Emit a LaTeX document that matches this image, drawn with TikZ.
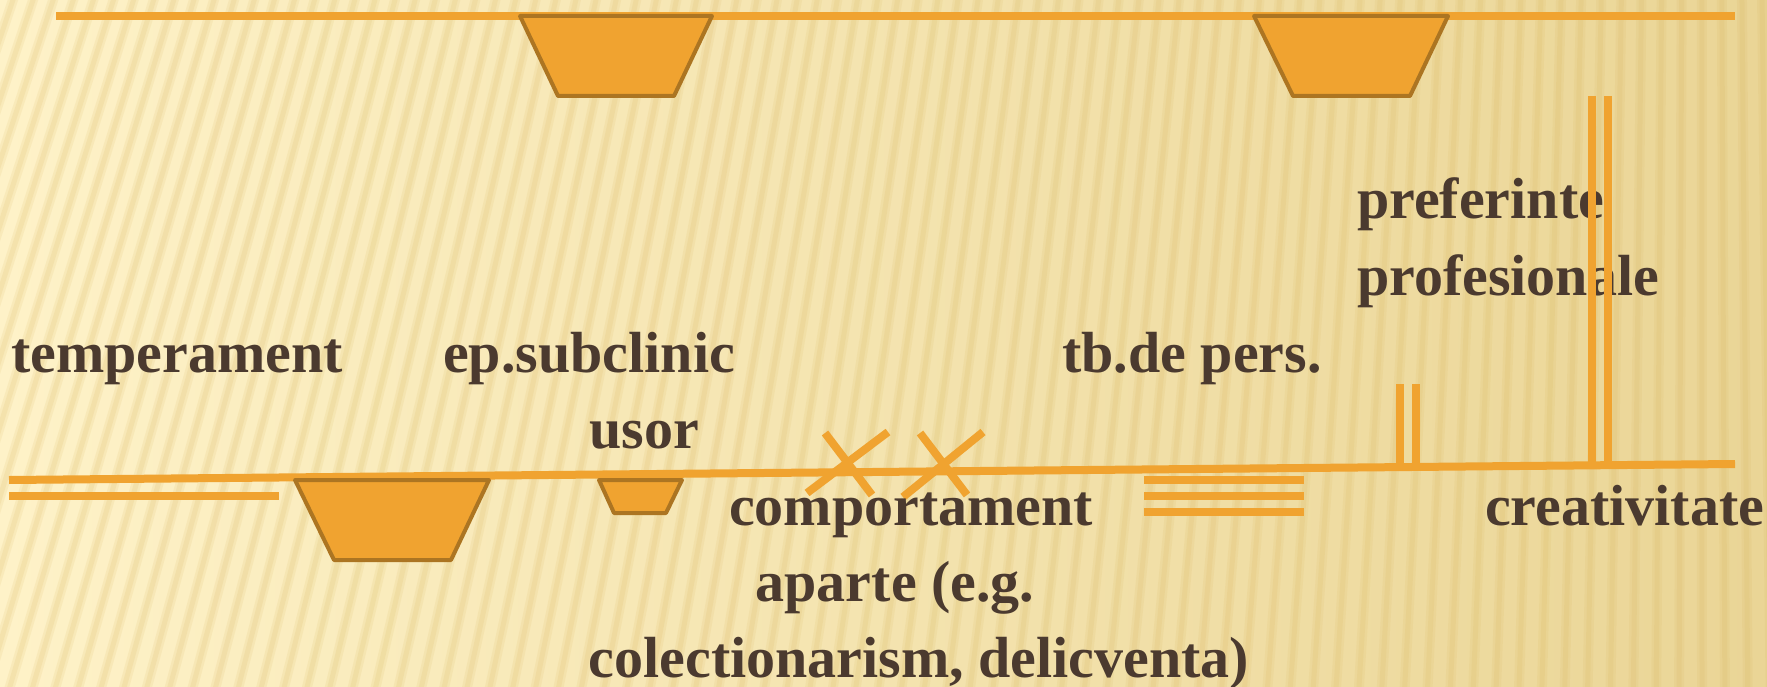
\documentclass[tikz,border=0pt]{standalone}
\usepackage{fontspec}
\setmainfont{Liberation Serif}
\usetikzlibrary{calc}
\definecolor{orng}{HTML}{F0A330}
\definecolor{orngdk}{HTML}{AC7522}
\definecolor{txt}{HTML}{4B3A2F}
\definecolor{bgL}{HTML}{FEF2C8}
\definecolor{bgM}{HTML}{F7E6B0}
\definecolor{bgR}{HTML}{EAD596}
\definecolor{strp}{HTML}{D8B45A}
\begin{document}
\begin{tikzpicture}[x=1pt,y=-1pt,
  bar/.style={draw=orng,line width=8pt},
  bucket/.style={fill=orng,draw=orngdk,line width=4pt,line join=round},
  lbl/.style={text=txt,font=\fontsize{58}{76}\selectfont\bfseries,inner sep=0pt},
  stripe/.style={draw=strp,line width=10pt,opacity=0.12},
  stripecore/.style={draw=strp,line width=5pt,opacity=0.14}]
\useasboundingbox (0,0) rectangle (1767,687);
\shade[left color=bgL,middle color=bgM,right color=bgR] (0,0) rectangle (1767,687);
\begin{scope}
\clip (0,0) rectangle (1767,687);
\foreach \b in {-460,-437,...,1800} {
  \draw[stripe] (1700,-5000) -- (\b,720);
  \draw[stripecore] (1700,-5000) -- (\b,720);
}
\end{scope}

% top line and buckets
\draw[bar] (56,16) -- (1735,16);
\draw[bucket] (520,16) -- (712,16) -- (674,96) -- (558,96) -- cycle;
\draw[bucket] (1254,16) -- (1448,16) -- (1410,96) -- (1293,96) -- cycle;

% bottom line and marks
\draw[bar] (9,480) -- (1735,464);
\draw[bar] (9,496) -- (279,496);
\draw[bucket] (295,480) -- (489,480) -- (451,560) -- (334,560) -- cycle;
\draw[bucket] (599,480) -- (682,480) -- (666,513) -- (614,513) -- cycle;
\draw[bar] (825,433) -- (872,495);
\draw[bar] (888,432) -- (807,493);
\draw[bar] (920,433) -- (967,495);
\draw[bar] (983,432) -- (903,497);
\draw[bar] (1144,480) -- (1304,480);
\draw[bar] (1144,496) -- (1304,496);
\draw[bar] (1144,512) -- (1304,512);
\draw[bar] (1400,384) -- (1400,468);
\draw[bar] (1416,384) -- (1416,468);

% texts
\node[lbl,anchor=base west] (temp) at (11,372) {temperament};
\node[lbl,anchor=base west] (epsub) at (443,372) {ep.subclinic};
\node[lbl,anchor=base west] (usor) at (589,448) {usor};
\node[lbl,anchor=base west] (tbde) at (1062,372) {tb.de pers.};
\node[lbl,anchor=base west] (pref1) at (1357,219) {preferinte};
\node[lbl,anchor=base west] (pref2) at (1357,295) {profesionale};
\node[lbl,anchor=base] (comp1) at (911,525) {comportament};
\node[lbl,anchor=base] (comp2) at (895,601) {aparte (e.g.};
\node[lbl,anchor=base] (comp3) at (919,677) {colectionarism, delicventa)};
\node[lbl,anchor=base west] (creat) at (1485,525) {creativitate};

% tall double line (drawn over the text)
\draw[bar] (1592,96) -- (1592,466);
\draw[bar] (1608,96) -- (1608,466);
\end{tikzpicture}
\end{document}
